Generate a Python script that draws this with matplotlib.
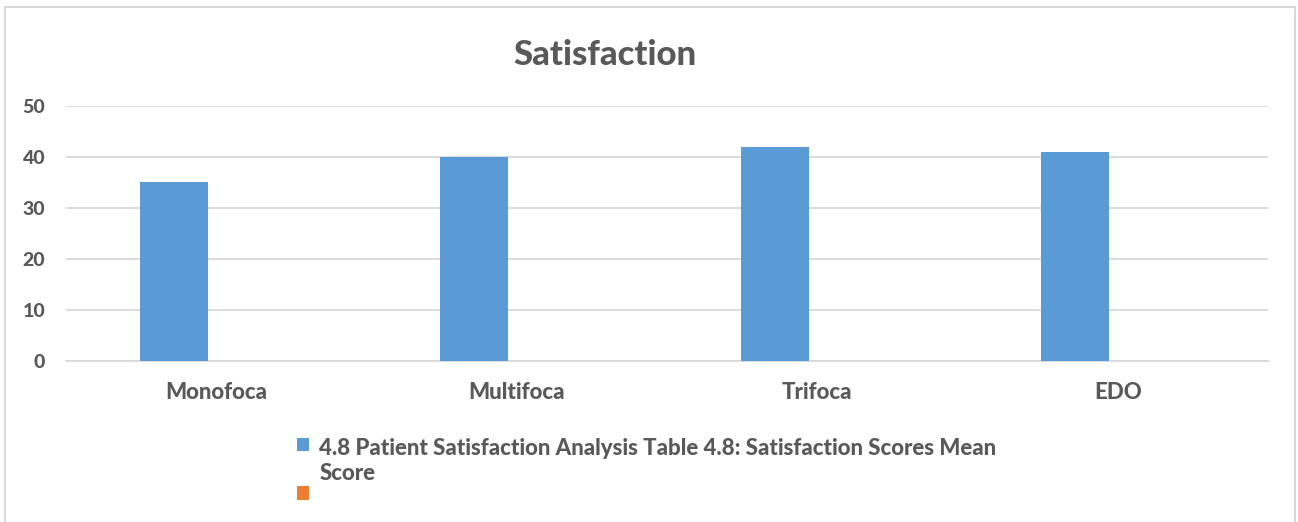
import numpy as np
import matplotlib.pyplot as plt
from matplotlib.patches import Rectangle

# dati
categorie = ["Monofoca", "Multifoca", "Trifoca", "EDO"]
punteggi = [35, 40, 42, 41]
serie2 = [0, 0, 0, 0]   # seconda serie vuota
nome1 = "4.8 Patient Satisfaction Analysis Table 4.8: Satisfaction Scores Mean\nScore"
nome2 = ""

plt.rcParams['font.family'] = ['Lato', 'DejaVu Sans']
grigio = "#595959"
peso = 900

fig = plt.figure(figsize=(12.98, 5.22), dpi=100)
ax = fig.add_axes([66/1298, 1-361/522, (1268-66)/1298, (361-106)/522])

x = np.arange(len(categorie))
w = 0.226
b1 = ax.bar(x - 0.255 + w/2, punteggi, w, color="#5b9bd5", label=nome1, zorder=3)
b2 = ax.bar(x - 0.255 + 3*w/2, serie2, w, color="#ed7d31", label=nome2, zorder=3)

ax.set_xlim(-0.5, 3.5)
ax.set_ylim(0, 50)
ax.set_yticks(range(0, 51, 10))
ax.set_xticks(x)
ax.set_xticklabels(categorie)
ax.grid(axis="y", color="#d9d9d9", linewidth=1.3, zorder=0)
for s in ["top", "right", "left"]:
    ax.spines[s].set_visible(False)
ax.spines["bottom"].set_color("#d9d9d9")
ax.spines["bottom"].set_linewidth(1.3)
ax.tick_params(length=0, colors=grigio)
ax.tick_params(axis="x", pad=15, labelsize=16)
ax.tick_params(axis="y", pad=15, labelsize=14)
for t in ax.get_xticklabels() + ax.get_yticklabels():
    t.set_fontweight(peso)

fig.text(605/1298, 1-55/522, "Satisfaction", ha="center", va="center",
         fontsize=25, fontweight=peso, color=grigio)

leg = fig.legend(handles=[b1, b2], labels=[nome1, nome2], loc="upper left",
                 bbox_to_anchor=(277/1298, 1-418/522), frameon=False,
                 handlelength=0.55, handleheight=0.55, handletextpad=0.45,
                 labelspacing=0.1, prop={"size": 16, "weight": peso})
for t in leg.get_texts():
    t.set_color(grigio)
    t.set_linespacing(1.25)
# quadratino allineato alla prima riga
for riga in leg._legend_handle_box.get_children()[0].get_children():
    riga.align = "top"

# cornice del grafico
fig.patches.append(Rectangle((5/1298, -0.1), 1290/1298, 1.1 - 7/522,
                             transform=fig.transFigure, fill=False,
                             edgecolor="#d9d9d9", linewidth=1.5))

fig.savefig("out.png", dpi=100)
